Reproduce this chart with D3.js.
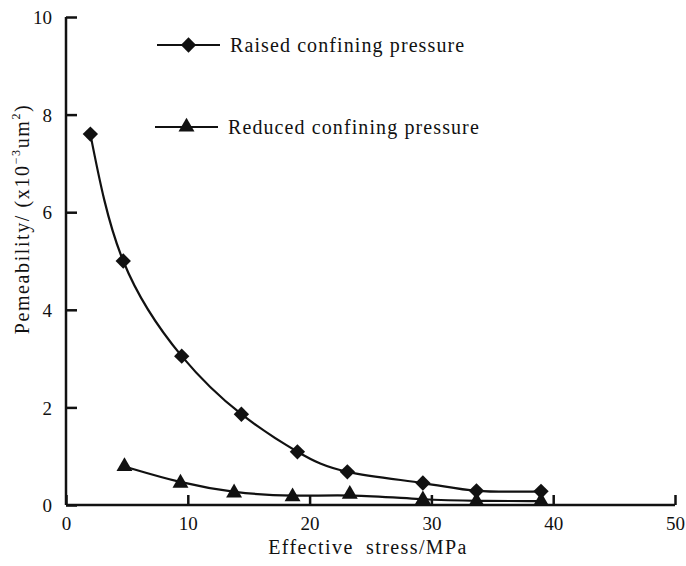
<!DOCTYPE html>
<html><head><meta charset="utf-8">
<script src="https://cdn.jsdelivr.net/npm/d3@7"></script>
<style>body{margin:0;background:#fff}svg{display:block}text{font-family:"Liberation Serif","DejaVu Serif",serif;fill:#111}</style>
</head><body><svg id="c" width="686" height="566"></svg>
<script>
const raisedX = [2.0, 4.7, 9.5, 14.4, 19.0, 23.1, 29.3, 33.7, 39.0];
const raisedY = [7.6, 5.0, 3.05, 1.86, 1.09, 0.68, 0.45, 0.29, 0.28];
const reducedX = [4.8, 9.4, 13.8, 18.6, 23.3, 29.3, 33.7, 39.0];
const reducedY = [0.79, 0.45, 0.25, 0.17, 0.22, 0.11, 0.08, 0.08];
const xTicks = [0, 10, 20, 30, 40, 50];
const yTicks = [0, 2, 4, 6, 8, 10];
const legendLabels = ["Raised confining pressure", "Reduced confining pressure"];
const xTitle = "Effective stress/MPa";

const svg = d3.select("#c");
const x = d3.scaleLinear().domain([0, 50]).range([66, 675]);
const y = d3.scaleLinear().domain([0, 10]).range([505, 17]);

// axes
const xAxis = d3.axisBottom(x).tickValues(xTicks).tickSize(-10).tickFormat(d3.format("d"));
const yAxis = d3.axisLeft(y).tickValues(yTicks).tickSize(-11).tickFormat(d3.format("d"));
const gx = svg.append("g").attr("transform", `translate(0,${y(0)})`).call(xAxis);
const gy = svg.append("g").attr("transform", `translate(${x(0)},0)`).call(yAxis);
[gx, gy].forEach(g => {
  g.select(".domain").attr("stroke", "#111").attr("stroke-width", 2.5);
  g.selectAll(".tick line").attr("stroke", "#111").attr("stroke-width", 2.5);
  g.selectAll(".tick text").attr("font-size", 19).attr("font-family", "Liberation Serif").attr("fill", "#111");
});
gx.select(".domain").attr("d", `M${x(0)},0H${x(50)}`);
gy.select(".domain").attr("d", `M0,${y(0)}V${y(10)}`);
gx.selectAll(".tick text").attr("dy", null).attr("y", 25);
gy.selectAll(".tick text").attr("x", -14).attr("dy", "0.35em");

// lines
const raised = raisedX.map((v, i) => [v, raisedY[i]]);
const reduced = reducedX.map((v, i) => [v, reducedY[i]]);
svg.append("path").datum(raised)
  .attr("d", d3.line().x(d => x(d[0])).y(d => y(d[1])).curve(d3.curveNatural))
  .attr("fill", "none").attr("stroke", "#111").attr("stroke-width", 2.2);
svg.append("path").datum(reduced)
  .attr("d", d3.line().x(d => x(d[0])).y(d => y(d[1])).curve(d3.curveBasis))
  .attr("fill", "none").attr("stroke", "#111").attr("stroke-width", 2.2);

const diamond = d3.symbol().type(d3.symbolDiamond2).size(150)();
const triangle = d3.symbol().type(d3.symbolTriangle).size(110)();
svg.append("g").selectAll("path").data(raised).join("path")
  .attr("d", diamond).attr("transform", d => `translate(${x(d[0])},${y(d[1])})`)
  .attr("fill", "#111");
svg.append("g").selectAll("path").data(reduced).join("path")
  .attr("d", triangle).attr("transform", d => `translate(${x(d[0])},${y(d[1])})`)
  .attr("fill", "#111");

// legend
const leg = [{y: 45, sym: diamond, x0: 157, x1: 220, label: legendLabels[0]},
             {y: 127, sym: triangle, x0: 155, x1: 218, label: legendLabels[1]}];
leg.forEach(l => {
  svg.append("line").attr("x1", l.x0).attr("x2", l.x1).attr("y1", l.y).attr("y2", l.y)
    .attr("stroke", "#111").attr("stroke-width", 2.2);
  svg.append("path").attr("d", l.sym).attr("transform", `translate(${(l.x0 + l.x1) / 2},${l.y})`).attr("fill", "#111");
  svg.append("text").attr("x", l.x1 + 10).attr("y", l.y + 7).attr("font-size", 20)
    .attr("letter-spacing", 1.1).text(l.label);
});

// axis titles
svg.append("text").attr("x", 368).attr("y", 554).attr("text-anchor", "middle")
  .attr("font-size", 20).attr("letter-spacing", 1.4).attr("word-spacing", 6).text(xTitle);
const yt = svg.append("text").attr("transform", "translate(29,219) rotate(-90)")
  .attr("text-anchor", "middle").attr("font-size", 20).attr("letter-spacing", 1.6);
yt.append("tspan").text("Pemeability/ (x10");
yt.append("tspan").attr("font-size", 12).attr("dy", -9).text("−3");
yt.append("tspan").attr("dy", 9).text("um");
yt.append("tspan").attr("font-size", 12).attr("dy", -9).text("2");
yt.append("tspan").attr("dy", 9).text(")");
</script></body></html>
